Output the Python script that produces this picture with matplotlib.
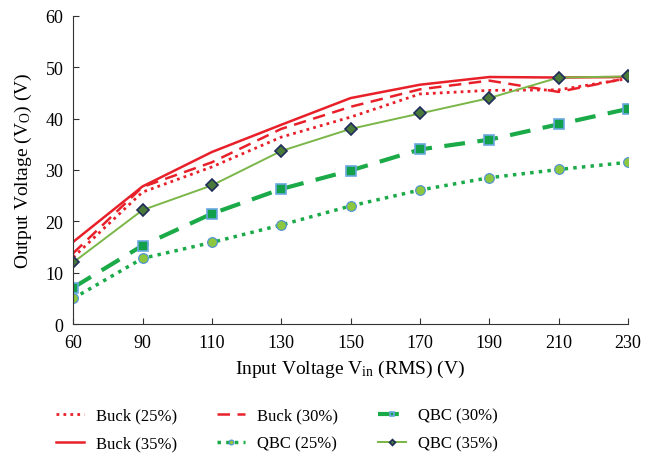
import numpy as np
import matplotlib.pyplot as plt

plt.rcParams['font.family'] = ['Liberation Serif', 'DejaVu Serif']
plt.rcParams['mathtext.fontset'] = 'custom'
plt.rcParams['mathtext.rm'] = 'Liberation Serif'
plt.rcParams['mathtext.it'] = 'Liberation Serif:italic'

vin = [60, 90, 110, 130, 150, 170, 190, 210, 230]
buck_25 = [13.0, 25.7, 30.6, 36.4, 40.3, 44.8, 45.5, 45.6, 47.8]
buck_30 = [13.8, 26.7, 31.5, 38.0, 42.3, 45.7, 47.4, 45.2, 47.9]
buck_35 = [16.0, 26.8, 33.5, 38.8, 44.0, 46.6, 48.1, 48.0, 48.1]
qbc_25 = [5.0, 12.8, 15.9, 19.3, 23.0, 26.1, 28.5, 30.1, 31.5]
qbc_30 = [7.1, 15.3, 21.5, 26.3, 29.9, 34.0, 35.9, 38.9, 41.9]
qbc_35 = [12.0, 22.2, 27.0, 33.7, 38.0, 41.0, 44.0, 48.0, 48.2]

red = "#e8202a"
green = "#1aaa48"

fig = plt.figure(figsize=(6.59, 4.56), dpi=100)
ax = fig.add_axes([0.111, 0.287, 0.842, 0.676])
x = np.arange(len(vin))

l1, = ax.plot(x, buck_25, color=red, ls=(0, (1, 1.5)), lw=2, label="Buck (25%)")
l2, = ax.plot(x, buck_30, color=red, ls=(0, (5, 3)), lw=1.8, label="Buck (30%)")
l3, = ax.plot(x, buck_35, color=red, ls="-", lw=1.8, label="Buck (35%)")
l4, = ax.plot(x, qbc_25, color=green, ls=(0, (1, 1.5)), lw=2.5, marker="o", ms=7,
              mfc="#8dc63f", mec="#4a90d9", mew=0.8, label="QBC (25%)")
l5, = ax.plot(x, qbc_30, color=green, ls=(0, (5, 3)), lw=3, marker="s", ms=7,
              mfc="#12a04a", mec="#6aa8e0", mew=1.2, label="QBC (30%)")
l6, = ax.plot(x, qbc_35, color="#7ab648", ls="-", lw=1.4, marker="D", ms=6,
              mfc="#4a7a3a", mec="#1f2d5a", mew=1.2, label="QBC (35%)")

ax.set_xlim(0, len(vin) - 1)
ax.set_ylim(0, 60)
ax.set_xticks(x)
ax.set_xticklabels([str(v) for v in vin])
ax.set_yticks(np.arange(0, 61, 10))
ax.tick_params(direction="in", labelsize=13, length=4, pad=7, color="#333333")
ax.spines["top"].set_visible(False)
ax.spines["right"].set_visible(False)
ax.spines["left"].set_color("#333333")
ax.spines["bottom"].set_color("#333333")
ax.set_xlabel("Input Voltage V$_{\\mathrm{in}}$ (RMS) (V)", fontsize=14, labelpad=5)
ax.set_ylabel("Output Voltage (V$_{\\mathrm{O}}$) (V)", fontsize=14, labelpad=8)

handles = [l1, l3, l2, l4, l5, l6]
fig.legend(handles, [h.get_label() for h in handles], loc="lower center",
           bbox_to_anchor=(0.42, -0.025), ncol=3, frameon=False, fontsize=12,
           columnspacing=2.4, handlelength=1.7, handletextpad=0.7,
           labelspacing=0.7, markerscale=0.5)

plt.savefig("out.png", dpi=100)
